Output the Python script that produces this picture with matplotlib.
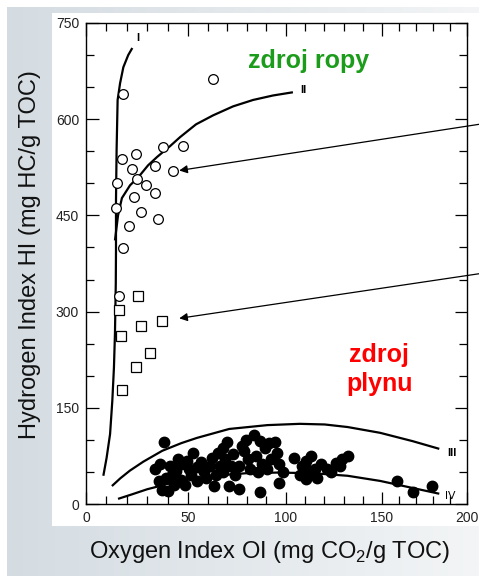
import numpy as np
import matplotlib
matplotlib.use('Agg')
import matplotlib.pyplot as plt
from matplotlib.patches import Rectangle

plt.rcParams['font.family'] = ['Liberation Sans', 'DejaVu Sans']
plt.rcParams['mathtext.fontset'] = 'custom'
plt.rcParams['mathtext.rm'] = 'Liberation Sans'

# open circles (OI, HI)
circ_oi = [62.8, 18.3, 17.8, 24.3, 37.9, 47.4, 22.4, 33.8, 42.5, 25.1, 15.1, 29.2,
           33.8, 23.7, 14.5, 27.0, 35.5, 21.2, 18.3, 16.3]
circ_hi = [662, 640, 538, 545, 557, 558, 522, 527, 520, 507, 501, 498,
           485, 479, 461, 456, 445, 433, 399, 324]

# open squares
sq_oi = [25.6, 16.3, 37.1, 27.0, 17.1, 31.6, 24.5, 17.5]
sq_hi = [325, 302, 286, 277, 262, 236, 214, 178]

# filled circles
fill_oi = [33.7, 36.5, 35.6, 38.4, 40.2, 37.4, 42.1, 44.0, 41.2, 46.8, 49.6, 52.5, 50.6, 54.5,
           46.8, 43.1, 54.5, 58.3, 59.3, 56.4, 62.2, 63.2, 65.2, 66.1, 68.1, 70.0, 69.1, 73.0,
           72.0, 71.0, 75.9, 73.9, 78.8, 80.8, 83.7, 79.8, 86.6, 84.6, 89.5, 87.6, 91.5, 94.4,
           95.4, 96.3, 90.5, 85.6, 96.3, 86.6, 81.7, 75.9, 68.1, 61.3, 51.5, 48.7, 44.9, 39.3,
           64.2, 77.8, 92.4, 98.3, 104.3, 108.2, 110.2, 113.2, 110.2, 115.2, 110.2, 116.2,
           118.2, 121.2, 114.2, 107.2, 123.2, 128.1, 129.1, 132.1, 126.1, 159.0, 168.0, 179.3]
fill_hi = [55, 62, 36, 97, 20, 22, 45, 52, 60, 62, 67, 79, 55, 36,
           38, 30, 58, 50, 41, 65, 72, 28, 80, 60, 88, 96, 70, 78,
           60, 28, 23, 45, 83, 70, 108, 100, 98, 75, 88, 62, 95, 96,
           80, 62, 55, 50, 33, 19, 55, 60, 50, 60, 45, 30, 70, 40,
           45, 90, 70, 50, 72, 60, 67, 75, 55, 55, 39, 41,
           62, 55, 48, 45, 50, 59, 70, 75, 64, 36, 19, 28]

# kerogen type curves I-IV
c1_oi = [8.5, 10.1, 11.8, 12.9, 13.7, 14.2, 14.6, 14.7, 14.7, 15.0, 15.5, 16.7, 18.3, 20.7, 22.7]
c1_hi = [44, 72, 109, 161, 213, 266, 344, 395, 473, 552, 630, 656, 681, 700, 711]
c2_oi = [14.2, 15.7, 17.6, 21.6, 25.5, 30.4, 34.8, 41.2, 46.1, 54.1, 62.8, 73.0, 83.2, 93.4, 103.6]
c2_hi = [411, 450, 477, 497, 509, 528, 541, 558, 572, 592, 606, 620, 630, 637, 642]
c3_oi = [12.7, 16.8, 21.5, 28.1, 37.4, 46.8, 54.5, 71.0, 90.5, 107.2, 120.2, 132.1, 149.0, 168.0, 183.7]
c3_hi = [28, 40, 52, 66, 83, 95, 103, 117, 123, 125, 124, 120, 111, 98, 86]
c4_oi = [15.7, 22.5, 30.0, 45.9, 62.7, 79.8, 95.4, 114.2, 132.1, 149.0, 168.0, 183.7]
c4_hi = [8, 15, 23, 36, 44, 48, 49, 48, 44, 36, 25, 16]

curve_labels = ['I', 'II', 'III', 'IV']
label_oi = [25.5, 108.9, 191.2, 190.0]
label_hi = [726, 645, 80, 12]

# the scanned x axis is slightly stretched: tick values vs. their relative positions
x_knots = [0, 50, 100, 150, 200]
x_pos = [0, 102, 200, 296, 381]


def fwd(x):
    x = np.asarray(x, dtype=float)
    y = np.interp(x, x_knots, x_pos)
    lo = x < x_knots[0]
    hi = x > x_knots[-1]
    y[lo] = x_pos[0] + (x[lo] - x_knots[0]) * (x_pos[1] - x_pos[0]) / (x_knots[1] - x_knots[0])
    y[hi] = x_pos[-1] + (x[hi] - x_knots[-1]) * (x_pos[-1] - x_pos[-2]) / (x_knots[-1] - x_knots[-2])
    return y


def inv(y):
    y = np.asarray(y, dtype=float)
    x = np.interp(y, x_pos, x_knots)
    lo = y < x_pos[0]
    hi = y > x_pos[-1]
    x[lo] = x_knots[0] + (y[lo] - x_pos[0]) * (x_knots[1] - x_knots[0]) / (x_pos[1] - x_pos[0])
    x[hi] = x_knots[-1] + (y[hi] - x_pos[-1]) * (x_knots[-1] - x_knots[-2]) / (x_pos[-1] - x_pos[-2])
    return x


fig = plt.figure(figsize=(4.79, 5.76), dpi=100)

# slide background gradient
bg = fig.add_axes([7/479, 0, 472/479, 569/576])
grad = np.linspace(0, 1, 256).reshape(1, -1)
bg.imshow(grad, aspect='auto', cmap=matplotlib.colors.LinearSegmentedColormap.from_list(
    'g', ['#d4dce2', '#f3f5f6']), extent=[0, 1, 0, 1])
bg.set_axis_off()
fig.patches.append(Rectangle((52/479, 50/576), 427/479, 513/576, transform=fig.transFigure,
                             facecolor='white', edgecolor='none', zorder=1))

ax = fig.add_axes([86/479, 72/576, 381/479, 481/576])
ax.set_zorder(2)
ax.set_facecolor('white')
ax.set_xscale('function', functions=(fwd, inv))

for xs, ys in [(c1_oi, c1_hi), (c2_oi, c2_hi), (c3_oi, c3_hi), (c4_oi, c4_hi)]:
    ax.plot(xs, ys, color='black', lw=1.6, solid_capstyle='butt', solid_joinstyle='round')

ax.plot(fill_oi, fill_hi, 'o', color='black', ms=7.5, mec='black')
ax.plot(circ_oi, circ_hi, 'o', mfc='white', mec='black', ms=7, mew=0.9)
ax.plot(sq_oi, sq_hi, 's', mfc='white', mec='black', ms=6.5, mew=0.9)

ax.annotate('', xy=(45.7, 520), xytext=(207, 592), annotation_clip=False,
            arrowprops=dict(arrowstyle='-|>', lw=0.9, color='black', mutation_scale=12,
                            shrinkA=0, shrinkB=0))
ax.annotate('', xy=(45.7, 289.5), xytext=(207, 359), annotation_clip=False,
            arrowprops=dict(arrowstyle='-|>', lw=0.9, color='black', mutation_scale=12,
                            shrinkA=0, shrinkB=0))

for lab, x, y in zip(curve_labels, label_oi, label_hi):
    ax.text(x, y, lab, fontsize=8, fontweight='bold' if lab != 'IV' else 'normal',
            ha='center', va='center')

ax.text(111.5, 690, 'zdroj ropy', color='#1b9c1b', fontsize=18, fontweight='bold',
        ha='center', va='center')
ax.text(148.5, 210, 'zdroj\nplynu', color='#ff0000', fontsize=18, fontweight='bold',
        ha='center', va='center', linespacing=1.25)

ax.set_xlim(0, 200)
ax.set_ylim(0, 750)
ax.set_xticks(np.arange(0, 201, 50))
ax.set_xticks(np.arange(0, 201, 10), minor=True)
ax.set_yticks(np.arange(0, 751, 150))
ax.set_yticks(np.arange(0, 751, 50), minor=True)
ax.xaxis.set_major_formatter(matplotlib.ticker.FormatStrFormatter('%d'))
ax.xaxis.set_minor_formatter(matplotlib.ticker.NullFormatter())
ax.tick_params(which='both', direction='in', top=True, right=True, labelsize=10,
               labelcolor='#222222', width=0.9)
ax.tick_params(which='major', length=9, pad=5)
ax.tick_params(which='minor', length=6)
for s in ax.spines.values():
    s.set_linewidth(1.0)

fig.text(30/479, 1 - 255/576, 'Hydrogen Index HI (mg HC/g TOC)', rotation=90,
         fontsize=17, ha='center', va='center', color='#111111')
fig.text(270/479, 1 - 552/576, r'Oxygen Index OI (mg CO$_\mathregular{2}$/g TOC)',
         fontsize=17, ha='center', va='center', color='#111111')

fig.savefig('out.png', dpi=100)
